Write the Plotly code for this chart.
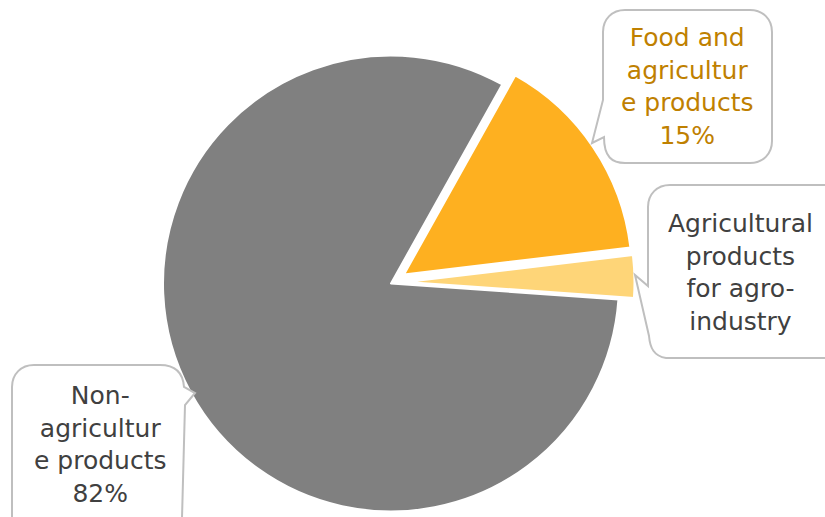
import plotly.graph_objects as go

W, H = 825, 517

labels = ["Food and agriculture products", "Agricultural products for agro-industry", "Non-agriculture products"]
values = [15, 3, 82]
colors = ["#FEB020", "#FED578", "#808080"]
text_colors = ["#BF8000", "#404040", "#404040"]
callout_text = [
    "Food and<br>agricultur<br>e products<br>15%",
    "Agricultural<br>products<br>for agro-<br>industry",
    "Non-<br>agricultur<br>e products<br>82%",
]

R = 228
# pixel centres of each (exploded) slice
centres = [(404, 274.5), (406.5, 282), (391, 283.5)]


def px(x):
    return x / W


def py(y):
    return 1 - y / H


fig = go.Figure()
for i in range(len(values)):
    cx, cy = centres[i]
    cols = ["rgba(0,0,0,0)"] * len(values)
    cols[i] = colors[i]
    widths = [0] * len(values)
    widths[i] = 2
    fig.add_trace(go.Pie(
        labels=labels, values=values, sort=False, direction="clockwise",
        rotation=29.2,
        marker=dict(colors=cols, line=dict(color="white", width=widths)),
        textinfo="none", hoverinfo="skip", showlegend=False,
        domain=dict(x=[px(cx - R), px(cx + R)], y=[py(cy + R), py(cy - R)]),
    ))


def bubble(pts_px):
    s = ""
    for cmd, pts in pts_px:
        s += cmd + " " + " ".join(f"{px(x):.5f},{py(y):.5f}" for x, y in pts) + " "
    return s + "Z"


r = 22
k = 0.45 * r
shapes = []
# bubble 1 (Food)
x0, y0, x1, y1 = 603, 10, 772, 163
p1 = [("M", [(x0 + r, y0)]), ("L", [(x1 - r, y0)]),
      ("C", [(x1 - r + k + 3, y0), (x1, y0 + r - k - 3), (x1, y0 + r)]),
      ("L", [(x1, y1 - r)]),
      ("C", [(x1, y1 - r + k + 3), (x1 - r + k + 3, y1), (x1 - r, y1)]),
      ("L", [(x0 + r, y1)]),
      ("C", [(x0 + r - k - 3, y1), (x0 + 1, y1 - 6), (x0 + 1, y1 - 26)]),
      ("L", [(592, 143)]), ("L", [(603, 100)]),
      ("L", [(x0, y0 + r)]),
      ("C", [(x0, y0 + r - k - 3), (x0 + r - k - 3, y0), (x0 + r, y0)])]
shapes.append(p1)
# bubble 2 (Agricultural products for agro-industry)
x0, y0, x1, y1 = 648, 185, 845, 358
p2 = [("M", [(x0 + r, y0)]), ("L", [(x1 - r, y0)]),
      ("C", [(x1 - r + k + 3, y0), (x1, y0 + r - k - 3), (x1, y0 + r)]),
      ("L", [(x1, y1 - r)]),
      ("C", [(x1, y1 - r + k + 3), (x1 - r + k + 3, y1), (x1 - r, y1)]),
      ("L", [(x0 + 18, y1)]),
      ("C", [(x0 + 6, y1 - 2), (x0 + 2, y1 - 10), (x0 + 1, y1 - 22)]),
      ("L", [(635, 275)]), ("L", [(x0, 286)]),
      ("L", [(x0, y0 + r)]),
      ("C", [(x0, y0 + r - k - 3), (x0 + r - k - 3, y0), (x0 + r, y0)])]
shapes.append(p2)
# bubble 3 (Non-agriculture)
x0, y0, x1, y1 = 12, 365, 184, 540
p3 = [("M", [(x0 + r, y0)]), ("L", [(x1 - r - 2, y0)]),
      ("C", [(x1 - 8, y0), (x1 - 1, y0 + 8), (x1, y0 + 22)]),
      ("L", [(195, 393)]), ("L", [(x1 + 1, 405)]),
      ("L", [(x1 - 2, y1 - r)]),
      ("C", [(x1 - 2, y1 - r + k + 3), (x1 - r + k + 1, y1), (x1 - r, y1)]),
      ("L", [(x0 + r, y1)]),
      ("C", [(x0 + r - k - 3, y1), (x0, y1 - r + k + 3), (x0, y1 - r)]),
      ("L", [(x0, y0 + r)]),
      ("C", [(x0, y0 + r - k - 3), (x0 + r - k - 3, y0), (x0 + r, y0)])]
shapes.append(p3)

fig.update_layout(shapes=[dict(type="path", xref="paper", yref="paper", path=bubble(p),
                               fillcolor="white", line=dict(color="#BFBFBF", width=2))
                          for p in shapes])

label_pos = [(687, 87), (740, 272), (100, 444)]
for i, t in enumerate(callout_text):
    x, y = label_pos[i]
    fig.add_annotation(x=px(x), y=py(y), xref="paper", yref="paper", text=t,
                       showarrow=False, xanchor="center", yanchor="middle", align="center",
                       font=dict(family="DejaVu Sans", size=25, color=text_colors[i]))

fig.update_layout(width=W, height=H, margin=dict(l=0, r=0, t=0, b=0),
                  paper_bgcolor="white", plot_bgcolor="white")
fig.write_html("out.html")
